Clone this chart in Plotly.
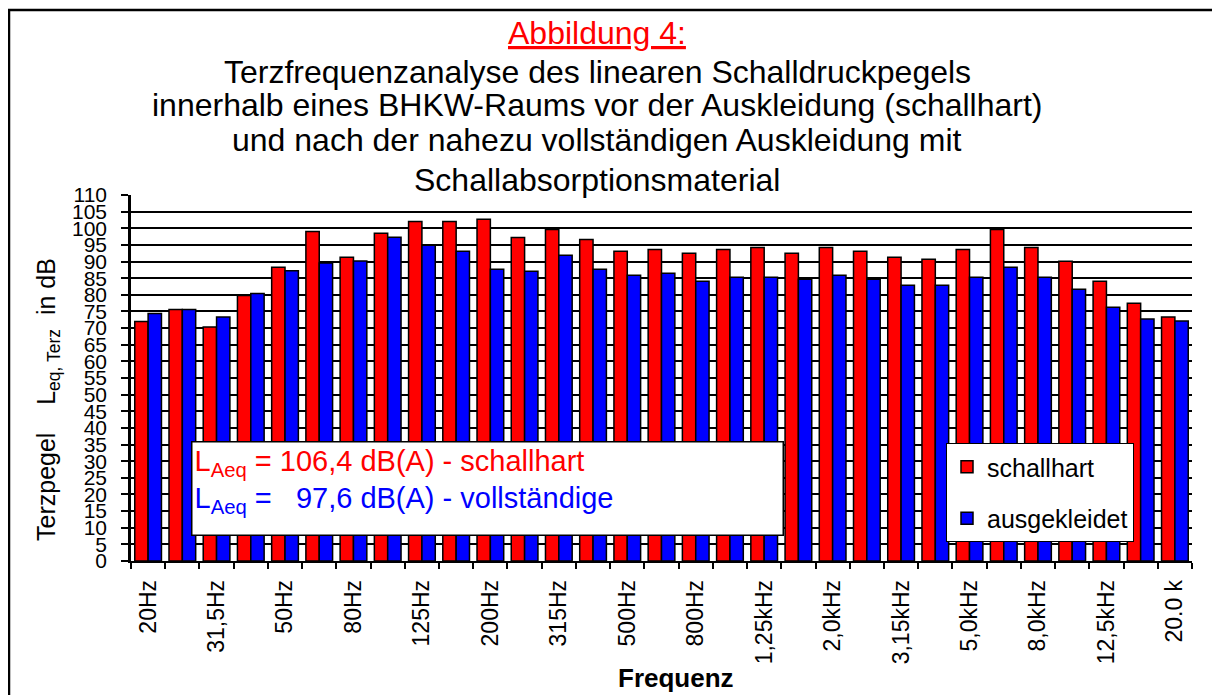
import plotly.graph_objects as go

# ---- data ----
categories = ["20Hz", "25Hz", "31,5Hz", "40Hz", "50Hz", "63Hz", "80Hz", "100Hz",
              "125Hz", "160Hz", "200Hz", "250Hz", "315Hz", "400Hz", "500Hz", "630Hz",
              "800Hz", "1kHz", "1,25kHz", "1,6kHz", "2,0kHz", "2,5kHz", "3,15kHz",
              "4kHz", "5,0kHz", "6,3kHz", "8,0kHz", "10kHz", "12,5kHz", "16kHz", "20.0 k"]
schallhart = [72.0, 75.6, 70.3, 79.8, 88.3, 99.0, 91.3, 98.5, 102.0, 102.0, 102.7,
              97.2, 99.6, 96.6, 93.1, 93.6, 92.5, 93.6, 94.2, 92.5, 94.2, 93.1,
              91.3, 90.7, 93.6, 99.6, 94.2, 90.1, 84.1, 77.5, 73.3]
ausgekleidet = [74.4, 75.6, 73.3, 80.4, 87.2, 89.6, 90.2, 97.3, 94.9, 93.1, 87.7,
                87.1, 91.9, 87.7, 85.9, 86.5, 84.1, 85.3, 85.3, 84.7, 85.9, 84.7,
                82.9, 82.9, 85.3, 88.3, 85.3, 81.7, 76.3, 72.7, 72.1]
labelled_every = 2
y_ticks = list(range(0, 111, 5))

title_lines = [
    "<u>Abbildung 4:</u>",
    "Terzfrequenzanalyse des linearen Schalldruckpegels",
    "innerhalb eines BHKW-Raums vor der Auskleidung (schallhart)",
    "und nach der nahezu vollständigen Auskleidung mit",
    "Schallabsorptionsmaterial",
]

FONT = "Liberation Sans, Arial, sans-serif"
# page offset (body margin of the html page)
OX, OY = 8, 8
W, H = 1212, 687
L, R, T, B = 123, 28, 187, 134
PW, PH = W - L - R, H - T - B


def px_x(px):
    return (px - OX - L) / PW


def px_y(py):
    return (H - B - (py - OY)) / PH


xs = list(range(len(categories)))

fig = go.Figure()
fig.add_trace(go.Bar(x=xs, y=schallhart, name="schallhart",
                     marker=dict(color="#FF0000", line=dict(color="black", width=1.5)),
                     legendgroup="a"))
fig.add_trace(go.Bar(x=xs, y=ausgekleidet, name="ausgekleidet",
                     marker=dict(color="#0000FF", line=dict(color="black", width=1.5)),
                     legendgroup="b"))

tickvals = xs[::labelled_every]
ticktext = [categories[i] for i in tickvals]

fig.update_layout(
    width=W, height=H,
    margin=dict(l=L, r=R, t=T, b=B, pad=0),
    paper_bgcolor="white", plot_bgcolor="white",
    font=dict(family=FONT, color="black"),
    barmode="group", bargap=0.22, bargroupgap=0.0,
    showlegend=True,
    legend=dict(x=px_x(946), y=px_y(443), xanchor="left", yanchor="top",
                bgcolor="white", bordercolor="black", borderwidth=1,
                font=dict(size=25, family=FONT, color="black"),
                traceorder="grouped", tracegroupgap=16,
                itemwidth=30),
    xaxis=dict(range=[-0.5, len(categories) - 0.5],
               tickmode="array", tickvals=tickvals, ticktext=ticktext,
               tickangle=-90, ticks="outside", ticklen=8, tickcolor="rgba(0,0,0,0)",
               tickfont=dict(size=23, family=FONT, color="black"),
               minor=dict(tickvals=[i - 0.5 for i in range(len(categories) + 1)],
                          ticks="outside", ticklen=6, tickcolor="black", tickwidth=1.5,
                          showgrid=False),
               showgrid=False, zeroline=False,
               showline=True, linecolor="black", linewidth=1.5),
    yaxis=dict(range=[0, 110], tickmode="array", tickvals=y_ticks,
               ticks="outside", ticklen=7, tickcolor="black", tickwidth=1.5,
               ticklabelstandoff=10,
               tickfont=dict(size=21, family=FONT, color="black"),
               showgrid=True, gridcolor="black", gridwidth=1.5,
               zeroline=False, showline=True, linecolor="black", linewidth=2.5),
)

annotations = []
title_y_px = [33, 72, 105, 140, 180]
for i, (line, ypx) in enumerate(zip(title_lines, title_y_px)):
    annotations.append(dict(
        text=line, x=px_x(597), y=px_y(ypx), xref="paper", yref="paper",
        xanchor="center", yanchor="middle", showarrow=False,
        font=dict(size=32, family=FONT,
                  color="#FF0000" if i == 0 else "black")))

# y-axis title
annotations.append(dict(
    text="Terzpegel\u00a0\u00a0\u00a0 L<sub>eq, Terz</sub>\u00a0 in dB",
    x=px_x(48), y=px_y(400), xref="paper", yref="paper",
    xanchor="center", yanchor="middle", textangle=-90, showarrow=False,
    font=dict(size=25, family=FONT, color="black")))

# x-axis title
annotations.append(dict(
    text="<b>Frequenz</b>", x=px_x(676), y=px_y(678), xref="paper", yref="paper",
    xanchor="center", yanchor="middle", showarrow=False,
    font=dict(size=26, family=FONT, color="black")))

# LAeq box
annotations.append(dict(
    text=("<span style='color:#FF0000'>L<sub>Aeq</sub> = 106,4 dB(A) - schallhart</span><br>"
          "<span style='color:#0000FF'>L<sub>Aeq</sub> =\u00a0\u00a0 97,6 dB(A) - vollständige</span>"),
    x=px_x(191), y=px_y(441), xref="paper", yref="paper",
    xanchor="left", yanchor="top", showarrow=False, align="left", valign="top",
    width=586, height=88, borderpad=2,
    bgcolor="white", bordercolor="black", borderwidth=1.5,
    font=dict(size=29, family=FONT)))

fig.update_layout(annotations=annotations)

# outer frame of the figure
fig.add_shape(type="rect", xref="paper", yref="paper",
              x0=px_x(9), x1=px_x(1240), y0=px_y(720), y1=px_y(10),
              line=dict(color="black", width=2.5), fillcolor="rgba(0,0,0,0)", layer="above")

fig.write_html("out.html")
